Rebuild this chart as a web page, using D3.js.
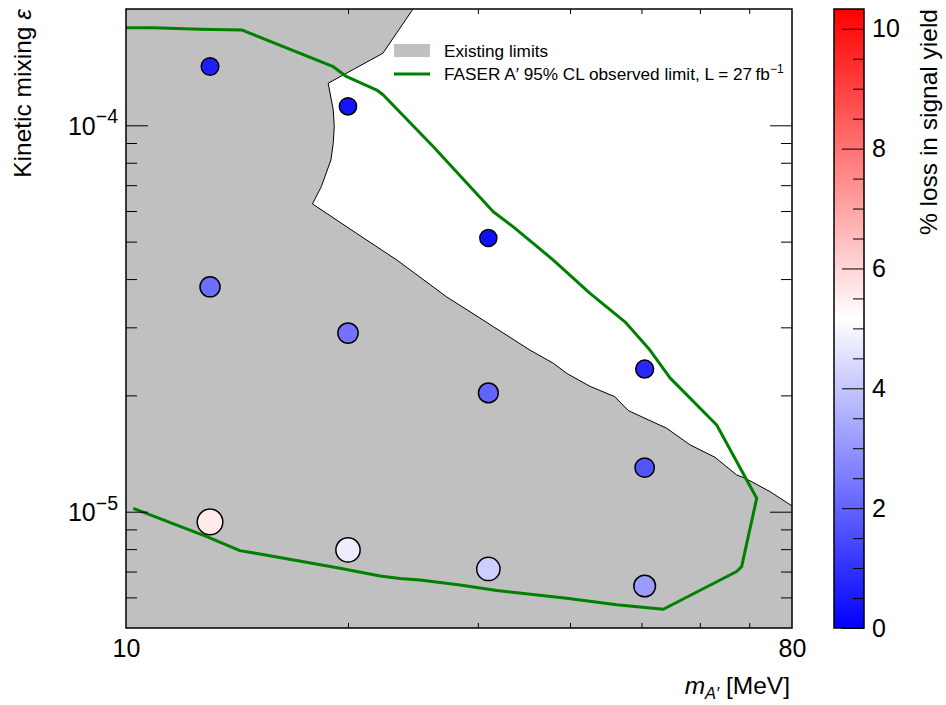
<!DOCTYPE html>
<html><head><meta charset="utf-8">
<script src="https://cdn.jsdelivr.net/npm/d3@7"></script>
<style>body{margin:0;background:#fff} text{font-family:"Liberation Sans",Arial,Helvetica,sans-serif;fill:#000}</style>
</head><body><svg id="c" width="946" height="705"></svg>
<script>
// ---------------- data ----------------
const massDomain = [10, 80];
const epsDomain = [5e-6, 2e-4];
const lossDomain = [0, 10.33];

const pointMass = [13, 20, 31, 50.5, 13, 20, 31, 50.5, 13, 20, 31, 50.5];
const pointEps = [1.42e-4, 1.12e-4, 5.11e-5, 2.34e-5, 3.82e-5, 2.90e-5, 2.03e-5, 1.30e-5, 9.41e-6, 7.96e-6, 7.11e-6, 6.42e-6];
const pointLoss = [0.6, 0.4, 0.3, 0.8, 2.2, 2.3, 2.0, 1.7, 5.6, 4.8, 4.2, 3.15];

// boundary of existing limits (excluded region lies to the left/below)
const limitMass = [24.5, 22.3, 18.8, 19.1, 19.16, 19.1, 18.96, 18.4, 17.9, 20.55, 23.3, 27.2, 30.2, 31.5, 35.3, 38.0, 39.6, 42.6, 46.0, 48.0, 54.1, 58.2, 62.9, 67.3, 69.1, 74.7, 80];
const limitEps = [2e-4, 1.536e-4, 1.285e-4, 1.096e-4, 9.92e-5, 8.99e-5, 8.13e-5, 6.94e-5, 6.26e-5, 5.25e-5, 4.48e-5, 3.60e-5, 3.17e-5, 3.01e-5, 2.62e-5, 2.42e-5, 2.28e-5, 2.11e-5, 1.985e-5, 1.826e-5, 1.644e-5, 1.489e-5, 1.383e-5, 1.245e-5, 1.221e-5, 1.127e-5, 1.035e-5];

// FASER observed limit contour
const faserMass = [10, 10.88, 12.6, 14.35, 19.1, 19.92, 21.88, 22.33, 26.11, 31.48, 33.51, 37.97, 42.58, 47.49, 51.34, 54.66, 63.24, 71.65, 68.36, 67.31, 53.53, 46.28, 39.6, 31.82, 28.38, 25.04, 23.52, 22.11, 19.51, 15.19, 14.27, 12.87, 10.23];
const faserEps = [1.789e-4, 1.789e-4, 1.772e-4, 1.765e-4, 1.418e-4, 1.336e-4, 1.234e-4, 1.198e-4, 8.80e-5, 5.975e-5, 5.46e-5, 4.48e-5, 3.674e-5, 3.10e-5, 2.62e-5, 2.22e-5, 1.677e-5, 1.083e-5, 7.21e-6, 7.00e-6, 5.59e-6, 5.74e-6, 5.97e-6, 6.25e-6, 6.46e-6, 6.66e-6, 6.72e-6, 6.82e-6, 7.14e-6, 7.77e-6, 7.93e-6, 8.62e-6, 1.02e-5];

const xTickLabels = [10, 80];
const xMinorTicks = [20, 30, 40, 50, 60, 70];
const yMajorTicks = [1e-5, 1e-4];
const yMinorTicks = [6e-6, 7e-6, 8e-6, 9e-6, 2e-5, 3e-5, 4e-5, 5e-5, 6e-5, 7e-5, 8e-5, 9e-5];
const cMajorTicks = [0, 2, 4, 6, 8, 10];
const cMinorTicks = [0.5, 1, 1.5, 2.5, 3, 3.5, 4.5, 5, 5.5, 6.5, 7, 7.5, 8.5, 9, 9.5];

const legendLabels = ["Existing limits", "FASER A\u2032 95% CL observed limit, L = 27\u2009fb"];
const xLabel = ["m", "A\u2032", " [MeV]"];
const yLabel = ["Kinetic mixing ", "\u03b5"];
const cLabel = "% loss in signal yield";

// ---------------- layout ----------------
const L = 126, R = 792, T = 9, B = 628;
const CBL = 834, CBR = 864;
const FONT = '"Liberation Sans",Arial,Helvetica,sans-serif';
const LABEL_SIZE = 24.5;

const svg = d3.select("#c");
const x = d3.scaleLog().domain(massDomain).range([L, R]);
const y = d3.scaleLog().domain(epsDomain).range([B, T]);
const cs = d3.scaleLinear().domain(lossDomain).range([B, T]);
const mid = (lossDomain[0] + lossDomain[1]) / 2;
const color = d3.scaleLinear().domain([lossDomain[0], mid, lossDomain[1]]).range(["#0000ff", "#ffffff", "#ff0000"]);
const rScale = d3.scaleLinear().domain([0, 6]).range([8.3, 13.1]);

const defs = svg.append("defs");
defs.append("clipPath").attr("id", "clip").append("rect")
  .attr("x", L).attr("y", T).attr("width", R - L).attr("height", B - T);

const plot = svg.append("g").attr("clip-path", "url(#clip)");

// gray excluded region
const boundary = limitMass.map((m, i) => [m, limitEps[i]]);
const grayPoly = [[massDomain[0], epsDomain[1]]].concat(boundary).concat([[massDomain[1], epsDomain[0]], [massDomain[0], epsDomain[0]]]);
const line = d3.line().x(d => x(d[0])).y(d => y(d[1]));
plot.append("path").attr("d", line(grayPoly) + "Z").attr("fill", "#c0c0c0").attr("stroke", "none");
plot.append("path").attr("d", line(boundary)).attr("fill", "none").attr("stroke", "#000").attr("stroke-width", 1);

// FASER contour
const faser = faserMass.map((m, i) => [m, faserEps[i]]);
plot.append("path").attr("d", line(faser)).attr("fill", "none").attr("stroke", "#008000")
  .attr("stroke-width", 3).attr("stroke-linejoin", "round");

// points
plot.selectAll("circle.pt").data(pointMass.map((m, i) => ({m, e: pointEps[i], v: pointLoss[i]})))
  .enter().append("circle").attr("class", "pt")
  .attr("cx", d => x(d.m)).attr("cy", d => y(d.e)).attr("r", d => rScale(d.v))
  .attr("fill", d => color(d.v)).attr("stroke", "#000").attr("stroke-width", 1.5);

// axes helpers
function styleAxis(g) {
  g.select(".domain").remove();
  g.selectAll(".tick line").attr("stroke", "#000").attr("stroke-width", 1);
  g.attr("font-family", FONT);
}
// x ticks
svg.append("g").attr("transform", `translate(0,${B})`)
  .call(d3.axisBottom(x).tickValues(xMinorTicks).tickSize(-5).tickFormat("")).call(styleAxis);
svg.append("g").attr("transform", `translate(0,${T})`)
  .call(d3.axisTop(x).tickValues(xMinorTicks).tickSize(-5).tickFormat("")).call(styleAxis);
const xg = svg.append("g").attr("transform", `translate(0,${B})`)
  .call(d3.axisBottom(x).tickValues(xTickLabels).tickSize(0).tickPadding(11).tickFormat(d3.format("d"))).call(styleAxis);
xg.selectAll(".tick text").attr("font-size", 25).attr("fill", "#000");

// y ticks
svg.append("g").attr("transform", `translate(${L},0)`)
  .call(d3.axisLeft(y).tickValues(yMinorTicks).tickSize(-11).tickFormat("")).call(styleAxis);
svg.append("g").attr("transform", `translate(${R},0)`)
  .call(d3.axisRight(y).tickValues(yMinorTicks).tickSize(-11).tickFormat("")).call(styleAxis);
svg.append("g").attr("transform", `translate(${R},0)`)
  .call(d3.axisRight(y).tickValues(yMajorTicks).tickSize(-22).tickFormat("")).call(styleAxis);
const yg = svg.append("g").attr("transform", `translate(${L},0)`)
  .call(d3.axisLeft(y).tickValues(yMajorTicks).tickSize(-22).tickPadding(8)).call(styleAxis);
yg.selectAll(".tick text").each(function (d) {
  const t = d3.select(this);
  t.text(null).attr("font-size", 25).attr("dy", "0.36em").attr("fill", "#000");
  t.append("tspan").text("10");
  t.append("tspan").attr("font-size", 19.5).attr("dy", "-0.6em")
    .text("\u2212" + Math.abs(Math.round(Math.log10(d))));
});

// frame
svg.append("rect").attr("x", L).attr("y", T).attr("width", R - L).attr("height", B - T)
  .attr("fill", "none").attr("stroke", "#000").attr("stroke-width", 1.5);

// axis labels
const xl = svg.append("text").attr("x", R - 2).attr("y", 694).attr("text-anchor", "end").attr("font-size", LABEL_SIZE);
xl.append("tspan").attr("font-style", "italic").text(xLabel[0]);
xl.append("tspan").attr("font-style", "italic").attr("font-size", 16.5).attr("dy", 5).text(xLabel[1]);
xl.append("tspan").attr("dy", -5).text(xLabel[2]);

const yl = svg.append("text").attr("transform", `translate(31,${T}) rotate(-90)`)
  .attr("text-anchor", "end").attr("font-size", LABEL_SIZE);
yl.append("tspan").text(yLabel[0]);
yl.append("tspan").attr("font-style", "italic").text(yLabel[1]);

// legend
const lg = svg.append("g");
lg.append("rect").attr("x", 394).attr("y", 44).attr("width", 36).attr("height", 13).attr("fill", "#c0c0c0");
lg.append("text").attr("x", 444).attr("y", 51).attr("dy", "0.35em").attr("font-size", 17.2).text(legendLabels[0]);
lg.append("line").attr("x1", 394).attr("x2", 430).attr("y1", 74).attr("y2", 74).attr("stroke", "#008000").attr("stroke-width", 3);
const lt = lg.append("text").attr("x", 444).attr("y", 74).attr("dy", "0.35em").attr("font-size", 17.2).text(legendLabels[1]);
lt.append("tspan").attr("font-size", 12).attr("dy", "-0.55em").text("\u22121");

// colorbar
const grad = defs.append("linearGradient").attr("id", "cbar").attr("x1", 0).attr("x2", 0).attr("y1", 1).attr("y2", 0);
d3.range(0, 1.0001, 0.05).forEach(f => {
  const v = lossDomain[0] + f * (lossDomain[1] - lossDomain[0]);
  grad.append("stop").attr("offset", f).attr("stop-color", color(v));
});
svg.append("rect").attr("x", CBL).attr("y", T).attr("width", CBR - CBL).attr("height", B - T)
  .attr("fill", "url(#cbar)");
svg.append("g").attr("transform", `translate(${CBR},0)`)
  .call(d3.axisRight(cs).tickValues(cMinorTicks).tickSize(-11).tickFormat("")).call(styleAxis);
const cg = svg.append("g").attr("transform", `translate(${CBR},0)`)
  .call(d3.axisRight(cs).tickValues(cMajorTicks).tickSize(-22).tickPadding(8).tickFormat(d3.format("d"))).call(styleAxis);
cg.selectAll(".tick text").attr("font-size", 25).attr("fill", "#000");
svg.append("rect").attr("x", CBL).attr("y", T).attr("width", CBR - CBL).attr("height", B - T)
  .attr("fill", "none").attr("stroke", "#000").attr("stroke-width", 1.5);
svg.append("text").attr("transform", `translate(937,${T}) rotate(-90)`)
  .attr("text-anchor", "end").attr("font-size", LABEL_SIZE).text(cLabel);
</script>
</body></html>
